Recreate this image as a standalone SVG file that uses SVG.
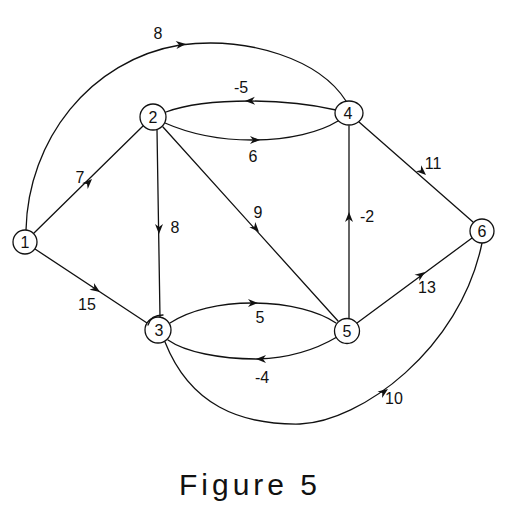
<svg xmlns="http://www.w3.org/2000/svg" xmlns:xlink="http://www.w3.org/1999/xlink" width="509" height="518" viewBox="0 0 509 518">
<defs>
<style>
.e{fill:none;stroke:#111;stroke-width:1.3;stroke-linecap:round}
.n{fill:#fff;stroke:#111;stroke-width:1.3}
.nt{font-family:"Liberation Sans",Arial,sans-serif;font-size:16px;fill:#111;text-anchor:middle}
.lb{font-family:"Liberation Sans",Arial,sans-serif;font-size:16px;fill:#111;text-anchor:middle}
.ah{fill:#111}
</style>
<path id="ah" class="ah" d="M0,0 L-10,-4 L-7,0 L-10,4 Z"/>
</defs>
<rect width="509" height="518" fill="#fff"/>
<g id="connectors">
<path class="e" d="M26,230 C28,140 90,60 180,45 C250,36 320,60 346,101"/>
<use xlink:href="#ah" transform="translate(186,44) rotate(-6)"/>
<text class="lb" x="158" y="39">8</text>
<path class="e" d="M34,233 L143,126"/>
<use xlink:href="#ah" transform="translate(92,179) rotate(-45)"/>
<text class="lb" x="80" y="183">7</text>
<path class="e" d="M35,249 L147,323"/>
<use xlink:href="#ah" transform="translate(100,292) rotate(34)"/>
<text class="lb" x="87" y="310">15</text>
<path class="e" d="M336,110 C310,104 280,101 250,101 C220,101 190,103 166,112"/>
<use xlink:href="#ah" transform="translate(245,101) rotate(178)"/>
<text class="lb" x="241" y="93">-5</text>
<path class="e" d="M165,123 C190,134 220,140 252,140 C290,140 320,132 338,121"/>
<use xlink:href="#ah" transform="translate(260,140) rotate(0)"/>
<text class="lb" x="253" y="162">6</text>
<path class="e" d="M157,130 L160,317"/>
<use xlink:href="#ah" transform="translate(159,234) rotate(90)"/>
<text class="lb" x="175" y="233">8</text>
<path class="e" d="M163,127 L338,321"/>
<use xlink:href="#ah" transform="translate(259,232) rotate(48)"/>
<text class="lb" x="258" y="218">9</text>
<path class="e" d="M349,318 L349,126"/>
<use xlink:href="#ah" transform="translate(349,212) rotate(-90)"/>
<text class="lb" x="367" y="222">-2</text>
<path class="e" d="M359,122 L473,222"/>
<use xlink:href="#ah" transform="translate(426,175) rotate(42)"/>
<text class="lb" x="433" y="169">11</text>
<path class="e" d="M170,323 C190,310 220,303 252,303 C290,303 320,312 336,323"/>
<use xlink:href="#ah" transform="translate(258,303) rotate(0)"/>
<text class="lb" x="260" y="323">5</text>
<path class="e" d="M337,337 C315,350 290,358 258,359 C220,359 185,352 168,340"/>
<use xlink:href="#ah" transform="translate(256,359) rotate(180)"/>
<text class="lb" x="262" y="383">-4</text>
<path class="e" d="M357,323 L472,238"/>
<use xlink:href="#ah" transform="translate(425,272) rotate(-36)"/>
<text class="lb" x="427" y="293">13</text>
<path class="e" d="M165,342 C190,405 240,425 300,424 C360,422 460,350 482,243"/>
<use xlink:href="#ah" transform="translate(388,389) rotate(-35)"/>
<text class="lb" x="394" y="404">10</text>
</g>
<g id="node1"><circle class="n" cx="25" cy="242" r="12"/><text class="nt" x="25" y="248">1</text></g>
<g id="node2"><circle class="n" cx="153" cy="117" r="13"/><text class="nt" x="153" y="123">2</text></g>
<g id="node3"><circle class="n" cx="158" cy="330" r="13"/><path class="e" d="M148,325 C150,318 156,315 163,315"/><text class="nt" x="159" y="336">3</text></g>
<g id="node4"><ellipse class="n" cx="349" cy="113" rx="14" ry="12"/><text class="nt" x="348" y="119">4</text></g>
<g id="node5"><circle class="n" cx="347" cy="331" r="12.5"/><text class="nt" x="347" y="337">5</text></g>
<g id="node6"><circle class="n" cx="482" cy="231" r="12"/><text class="nt" x="482" y="237">6</text></g>
<text x="250" y="495" font-family="Liberation Sans, Arial, sans-serif" font-size="30" letter-spacing="4" fill="#111" text-anchor="middle">Figure 5</text>
</svg>
